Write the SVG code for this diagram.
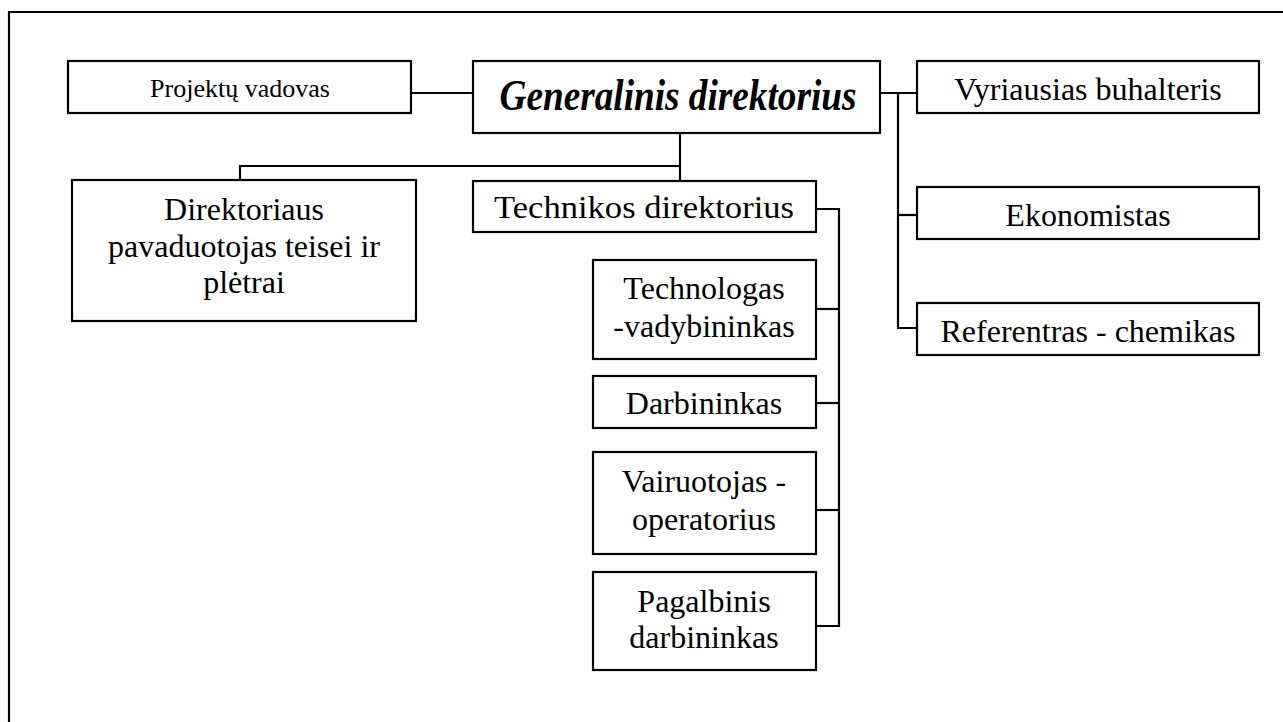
<svg xmlns="http://www.w3.org/2000/svg" width="1283" height="722" viewBox="0 0 1283 722">
<style>
.box{fill:#fff;stroke:#000;stroke-width:2.2}
.ln{fill:none;stroke:#000;stroke-width:2.2}
text{font-family:'Liberation Serif',serif;font-size:32px;fill:#000;text-anchor:middle}
.gd{font-weight:bold;font-style:italic;font-size:44px}
.sm{font-size:26px}
</style>
<rect width="1283" height="722" fill="#fff"/>
<path class="ln" d="M9,730 V12 H1290"/>
<g id="connectors">
<path class="ln" d="M411,93 H473"/>
<path class="ln" d="M680,133 V181"/>
<path class="ln" d="M240,180 V166 H680"/>
<path class="ln" d="M880,93 H917"/>
<path class="ln" d="M898,93 V328 H917"/>
<path class="ln" d="M898,215 H917"/>
<path class="ln" d="M816,209 H839 V626 H816"/>
<path class="ln" d="M816,309 H839"/>
<path class="ln" d="M816,403 H839"/>
<path class="ln" d="M816,510 H839"/>
</g>
<g id="projektu-vadovas">
<rect class="box" x="68" y="61" width="343" height="52"/>
<text class="sm" x="240" y="97">Projektų vadovas</text>
</g>
<g id="generalinis-direktorius">
<rect class="box" x="473" y="61" width="407" height="72"/>
<text class="gd" x="678" y="110" textLength="357" lengthAdjust="spacingAndGlyphs">Generalinis direktorius</text>
</g>
<g id="vyriausias-buhalteris">
<rect class="box" x="917" y="61" width="342" height="52"/>
<text x="1088" y="100">Vyriausias buhalteris</text>
</g>
<g id="ekonomistas">
<rect class="box" x="917" y="187" width="342" height="52"/>
<text x="1088" y="226">Ekonomistas</text>
</g>
<g id="referentras-chemikas">
<rect class="box" x="917" y="303" width="342" height="52"/>
<text x="1088" y="342">Referentras - chemikas</text>
</g>
<g id="direktoriaus-pavaduotojas">
<rect class="box" x="72" y="180" width="344" height="141"/>
<text x="244" y="220">Direktoriaus</text>
<text x="244" y="257">pavaduotojas teisei ir</text>
<text x="244" y="293">plėtrai</text>
</g>
<g id="technikos-direktorius">
<rect class="box" x="473" y="181" width="343" height="51"/>
<text x="644" y="218" textLength="300" lengthAdjust="spacingAndGlyphs">Technikos direktorius</text>
</g>
<g id="technologas-vadybininkas">
<rect class="box" x="593" y="260" width="223" height="99"/>
<text x="704" y="299">Technologas</text>
<text x="704" y="337">-vadybininkas</text>
</g>
<g id="darbininkas">
<rect class="box" x="593" y="376" width="223" height="52"/>
<text x="704" y="414">Darbininkas</text>
</g>
<g id="vairuotojas-operatorius">
<rect class="box" x="593" y="452" width="223" height="102"/>
<text x="704" y="492">Vairuotojas -</text>
<text x="704" y="530">operatorius</text>
</g>
<g id="pagalbinis-darbininkas">
<rect class="box" x="593" y="572" width="223" height="98"/>
<text x="704" y="612">Pagalbinis</text>
<text x="704" y="648">darbininkas</text>
</g>
</svg>
